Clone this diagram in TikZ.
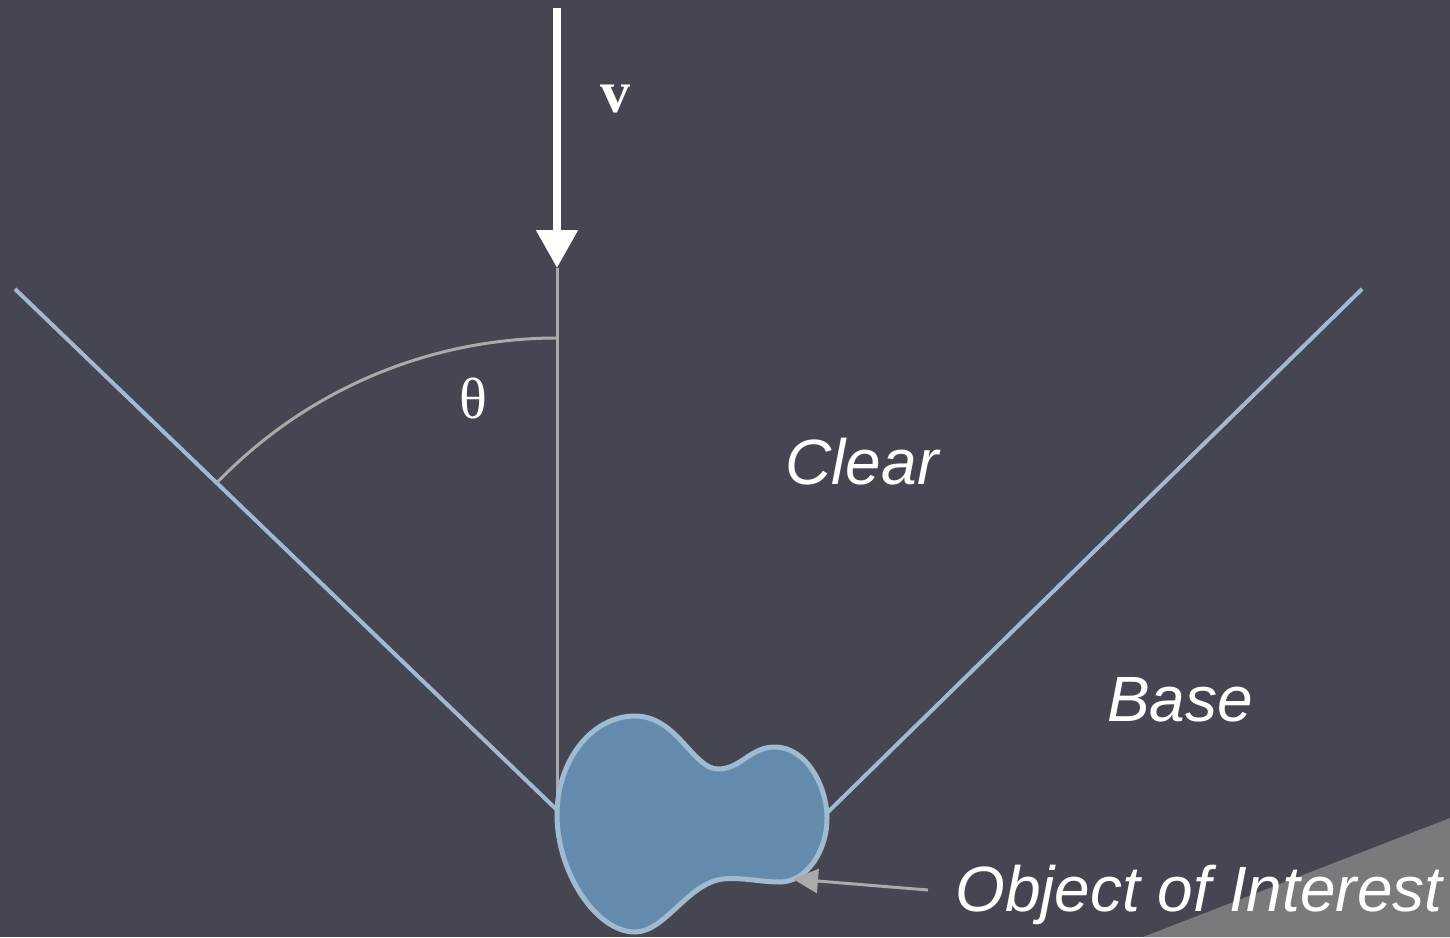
\documentclass[tikz,border=0pt]{standalone}
\usepackage{fontspec}
\setmainfont{Liberation Serif}
\setsansfont{Liberation Sans}
\usetikzlibrary{arrows.meta}
\definecolor{bgc}{RGB}{70,70,82}
\definecolor{edgec}{RGB}{160,186,210}
\definecolor{blobc}{RGB}{100,139,174}
\definecolor{greyc}{RGB}{170,170,170}
\definecolor{cornerc}{RGB}{122,122,124}
\tikzset{
  coneline/.style={edgec, line width=4pt},
  guide/.style={greyc, line width=3pt},
  lbl/.style={text=white, font=\sffamily\itshape\fontsize{64}{70}\selectfont, inner sep=0pt},
}
\begin{document}
\begin{tikzpicture}[x=1pt,y=-1pt]
\fill[bgc] (0,0) rectangle (1450,937);
\useasboundingbox (0,0) rectangle (1450,937);
\fill[cornerc] (1143,937) -- (1450,818) -- (1450,937) -- cycle;
% coordinates
\coordinate (apex) at (557,810);
\coordinate (lend) at (15,289);
\coordinate (rapex) at (828,812);
\coordinate (rend) at (1362,289);
\coordinate (vtop) at (557,8);
\coordinate (vtip) at (557,268);
% cone lines
\draw[coneline] (apex) -- (lend);
\draw[coneline] (rapex) -- (rend);
% vertical guide
\draw[guide] (vtip) -- (apex);
% angle arc
\draw[guide] (557,338) arc[start angle=-90, end angle=-136.1, radius=472];
% velocity arrow
\draw[white, line width=8pt, -{Triangle[width=40pt,length=38pt]}] (vtop) -- (vtip);
\node[text=white, font=\bfseries\fontsize{60}{66}\selectfont, inner sep=0pt] (v) at (615,99) {v};
\node[text=white, font=\fontsize{58}{64}\selectfont, inner sep=0pt] (theta) at (473,398) {θ};
% blob
\draw[edgec, fill=blobc, line width=5pt]
 (557,815) .. controls (557,760) and (592,716) .. (635,716)
 .. controls (677,716) and (693,769) .. (718,769)
 .. controls (741,769) and (750,747) .. (775,747)
 .. controls (806,747) and (827,786) .. (827,818)
 .. controls (827,852) and (806,882) .. (780,882)
 .. controls (760,882) and (742,877) .. (723,879)
 .. controls (688,883) and (665,932) .. (635,932)
 .. controls (596,932) and (557,872) .. (557,815) -- cycle;
\coordinate (objtip) at (793,879);
% labels
\node[lbl] (clear) at (862,462) {Clear};
\node[lbl] (base) at (1180,700) {Base};
\node[lbl, anchor=west] (obj) at (955,895) {Object of Interest};
\draw[guide, -{Triangle[width=24pt,length=25pt]}] (928,890) -- (objtip);
\end{tikzpicture}
\end{document}
